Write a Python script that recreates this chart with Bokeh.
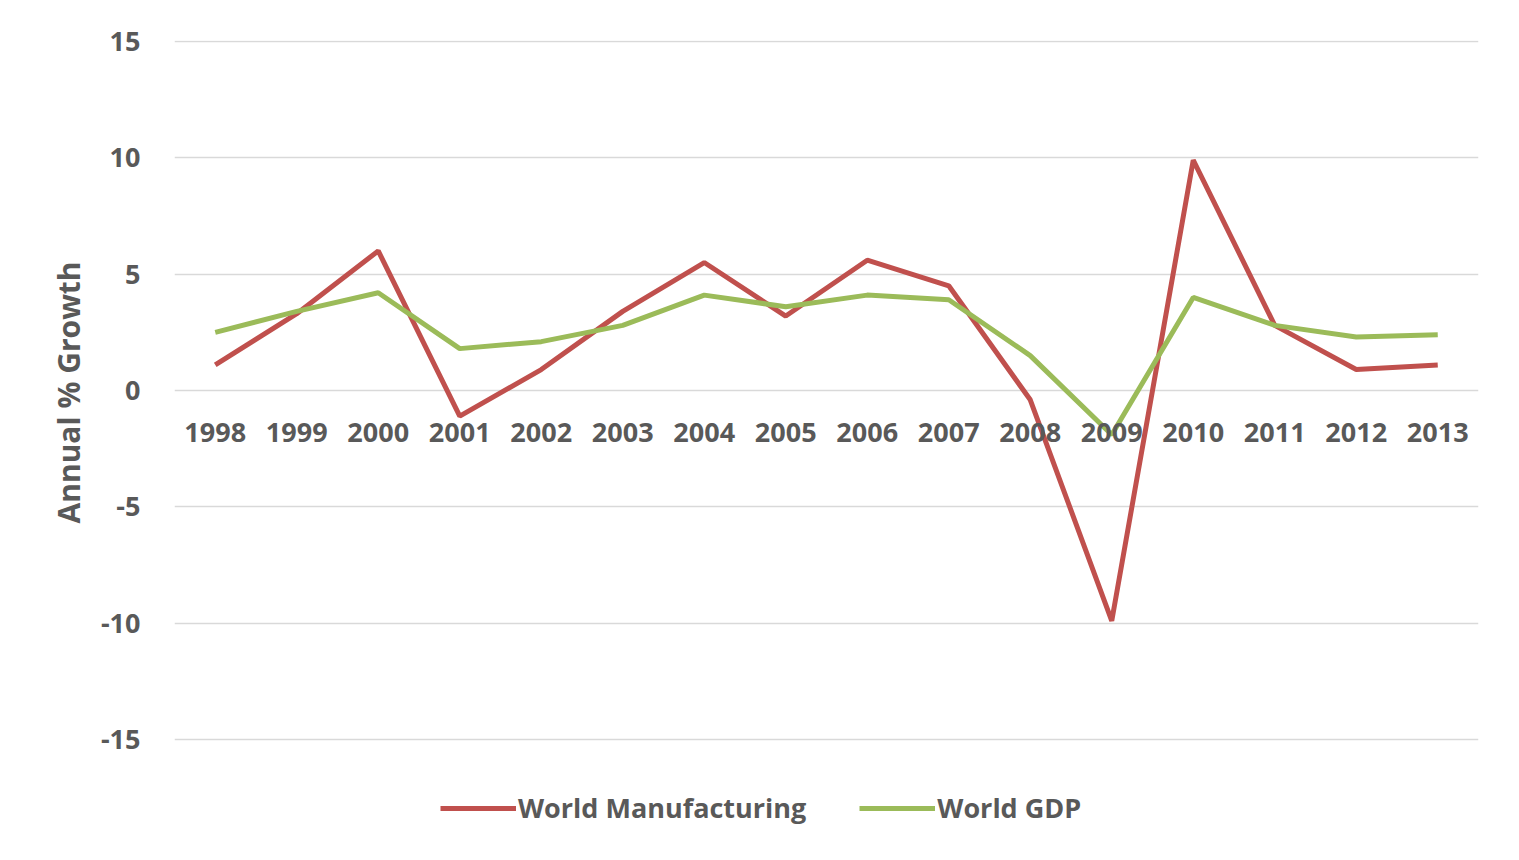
from bokeh.plotting import figure
from bokeh.models import Range1d, FactorRange, Legend, LegendItem, ColumnDataSource, FixedTicker, CustomJSTickFormatter, Title
from bokeh.core.properties import value
from bokeh.embed import file_html
from bokeh.resources import INLINE

years = ["1998", "1999", "2000", "2001", "2002", "2003", "2004", "2005",
         "2006", "2007", "2008", "2009", "2010", "2011", "2012", "2013"]
manufacturing = [1.1, 3.3, 6.0, -1.1, 0.9, 3.4, 5.5, 3.2, 5.6, 4.5, -0.4, -9.9, 9.9, 2.8, 0.9, 1.1]
gdp = [2.5, 3.4, 4.2, 1.8, 2.1, 2.8, 4.1, 3.6, 4.1, 3.9, 1.5, -1.9, 4.0, 2.8, 2.3, 2.4]
y_ticks = [-15, -10, -5, 0, 5, 10, 15]

FONT = "Open Sans"
GRAY = "#595959"
RED = "#C0504D"
GREEN = "#9BBB59"

p = figure(width=1519, height=860, output_backend="svg", toolbar_location=None,
           x_range=FactorRange(*years, range_padding=0), y_range=Range1d(-19.341, 15.043),
           min_border_left=174, min_border_right=41, min_border_top=40, min_border_bottom=20,
           frame_width=1304, frame_height=800)
p.outline_line_color = None
p.border_fill_color = "white"
p.background_fill_color = "white"

p.xaxis.visible = False
p.xgrid.visible = False

p.yaxis.ticker = FixedTicker(ticks=y_ticks)
p.yaxis.formatter = CustomJSTickFormatter(code="return String(tick);")
p.yaxis.axis_line_color = None
p.yaxis.major_tick_line_color = None
p.yaxis.minor_tick_line_color = None
p.yaxis.major_label_text_font = FONT
p.yaxis.major_label_text_font_style = "bold"
p.yaxis.major_label_text_font_size = "27px"
p.yaxis.major_label_text_color = GRAY
p.yaxis.major_label_standoff = 28
p.ygrid.grid_line_color = "#D9D9D9"
p.ygrid.grid_line_width = 1.5

ytitle = Title(text="Annual % Growth", align="left", offset=317, standoff=18,
               text_font=FONT, text_font_style="bold", text_font_size="30px", text_color=GRAY)
p.add_layout(ytitle, "left")

src = ColumnDataSource(dict(x=years, m=manufacturing, g=gdp, zero=[0] * len(years)))
r_m = p.line("x", "m", source=src, line_color=RED, line_width=5)
r_g = p.line("x", "g", source=src, line_color=GREEN, line_width=5)

p.text("x", "zero", text="x", source=src, text_font=value(FONT), text_font_style="bold",
       text_font_size="27px", text_color=GRAY, text_align="center", text_baseline="middle",
       y_offset=42)

legend = Legend(items=[LegendItem(label="World Manufacturing", renderers=[r_m]),
                       LegendItem(label="World GDP", renderers=[r_g])],
                orientation="horizontal", location=(266, 14),
                label_text_font=FONT, label_text_font_style="bold",
                label_text_font_size="27px", label_text_color=GRAY,
                glyph_width=76, glyph_height=24, label_standoff=2, spacing=53,
                padding=0, margin=0, border_line_color=None, background_fill_alpha=0)
p.add_layout(legend, "center")

open("out.html", "w").write(file_html(p, INLINE))
